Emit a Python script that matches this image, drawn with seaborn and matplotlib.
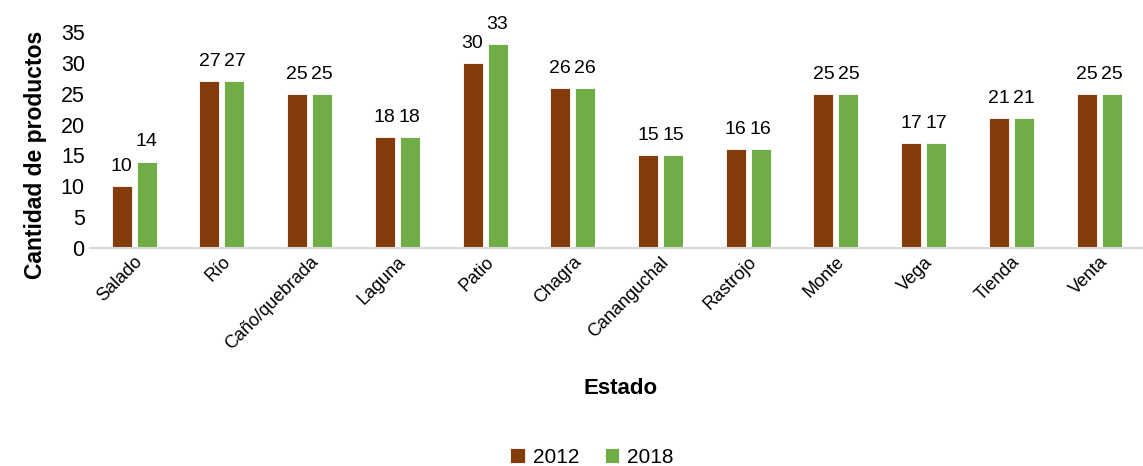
import pandas as pd
import matplotlib.pyplot as plt
import seaborn as sns

categorias = ['Salado', 'Río', 'Caño/quebrada', 'Laguna', 'Patio', 'Chagra',
              'Cananguchal', 'Rastrojo', 'Monte', 'Vega', 'Tienda', 'Venta']
valores_2012 = [10, 27, 25, 18, 30, 26, 15, 16, 25, 17, 21, 25]
valores_2018 = [14, 27, 25, 18, 33, 26, 15, 16, 25, 17, 21, 25]
anios = ['2012', '2018']
colores = ['#843C0C', '#70AD47']

df = pd.DataFrame({
    'Estado': categorias * 2,
    'Año': [anios[0]] * len(categorias) + [anios[1]] * len(categorias),
    'Cantidad': valores_2012 + valores_2018,
})

sns.set_style('white')
plt.rcParams['font.family'] = ['Liberation Sans', 'DejaVu Sans']
plt.rcParams['text.color'] = 'black'
plt.rcParams['xtick.color'] = 'black'
plt.rcParams['ytick.color'] = 'black'
plt.rcParams['axes.labelcolor'] = 'black'

fig = plt.figure(figsize=(11.43, 4.66), dpi=100)
ax = fig.add_axes([0.079, 0.468, 0.921, 0.463])

sns.barplot(data=df, x='Estado', y='Cantidad', hue='Año', palette=colores,
            saturation=1, width=0.57, gap=0.2, edgecolor='white',
            linewidth=0.6, ax=ax)

for cont in ax.containers:
    ax.bar_label(cont, fontsize=14, padding=8)

ax.set_ylim(0, 35)
ax.set_yticks(range(0, 36, 5))
ax.tick_params(axis='y', labelsize=15.5, length=0, pad=4)
ax.tick_params(axis='x', labelsize=13, length=0, pad=4)
for lab in ax.get_xticklabels():
    lab.set_rotation(45)
    lab.set_ha('right')
    lab.set_rotation_mode('anchor')

for s in ['top', 'right', 'left']:
    ax.spines[s].set_visible(False)
ax.spines['bottom'].set_color('#d9d9d9')
ax.spines['bottom'].set_linewidth(1.5)
ax.set_xlim(-0.5, len(categorias) - 0.5)

ax.set_ylabel('Cantidad de productos', fontsize=16.5, fontweight='bold')
ax.yaxis.set_label_coords(-0.041, 0.43)
ax.set_xlabel('')
fig.text(0.543, 0.167, 'Estado', fontsize=16, fontweight='bold',
         ha='center', va='center')

handles, labels = ax.get_legend_handles_labels()
ax.legend_.remove()
fig.legend(handles, labels, loc='center', bbox_to_anchor=(0.518, 0.019), ncol=2,
           frameon=False, fontsize=15, handlelength=0.7, handleheight=0.7,
           handletextpad=0.4, columnspacing=1.2)

fig.savefig('out.png', dpi=100)
